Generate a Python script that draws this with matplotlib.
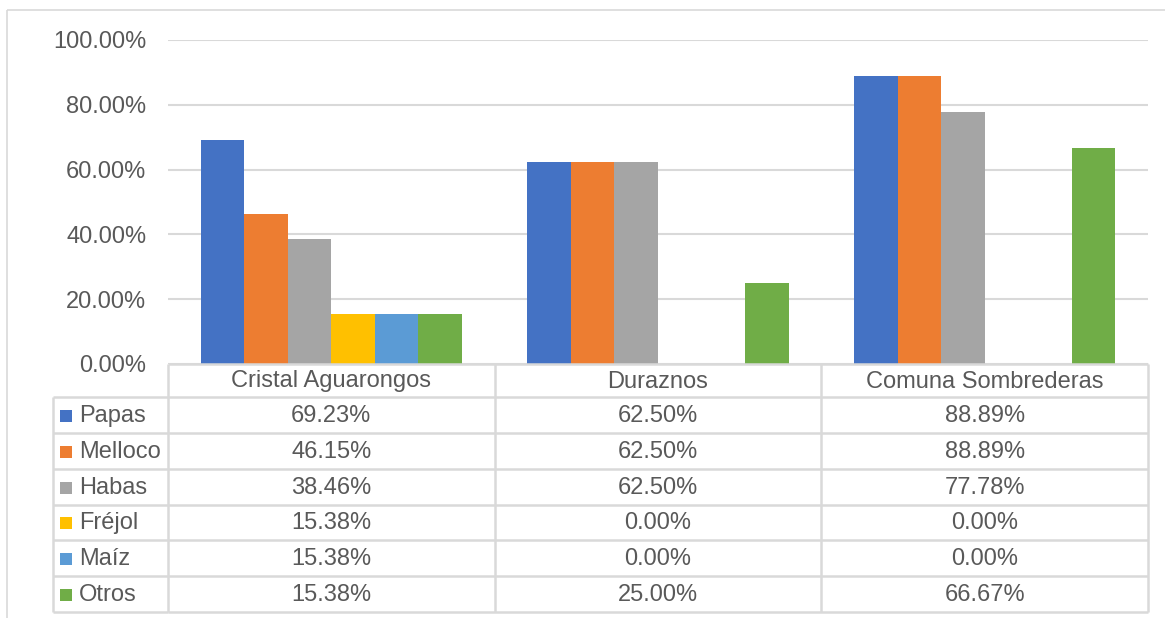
import matplotlib
matplotlib.use('Agg')
import matplotlib.pyplot as plt
from matplotlib.transforms import blended_transform_factory, Affine2D
from matplotlib.lines import Line2D
from matplotlib.patches import Rectangle
import numpy as np

plt.rcParams['font.family'] = ['Liberation Sans', 'DejaVu Sans']

categories = ['Cristal Aguarongos', 'Duraznos', 'Comuna Sombrederas']
series_names = ['Papas', 'Melloco', 'Habas', 'Fréjol', 'Maíz', 'Otros']
papas = [0.6923, 0.6250, 0.8889]
melloco = [0.4615, 0.6250, 0.8889]
habas = [0.3846, 0.6250, 0.7778]
frejol = [0.1538, 0.0, 0.0]
maiz = [0.1538, 0.0, 0.0]
otros = [0.1538, 0.2500, 0.6667]
series_values = [papas, melloco, habas, frejol, maiz, otros]
colors = ['#4472C4', '#ED7D31', '#A5A5A5', '#FFC000', '#5B9BD5', '#70AD47']
yticks = [0.0, 0.2, 0.4, 0.6, 0.8, 1.0]

W, H = 1165, 618
fig = plt.figure(figsize=(W / 100, H / 100), dpi=100)
fig.patch.set_facecolor('white')

def fx(px):
    return px / W

def fy(py):
    return 1 - py / H

TXT = '#595959'
GRID = '#d9d9d9'
FS = 17

ax = fig.add_axes([fx(168), fy(364), fx(1148) - fx(168), fy(40) - fy(364)])
n = len(series_names)
gap = 1.5
bw = 1.0 / (n + gap)
x = np.arange(len(categories))
for i, (name, vals) in enumerate(zip(series_names, series_values)):
    offs = (i - (n - 1) / 2) * bw
    ax.bar(x + offs, vals, width=bw, color=colors[i], zorder=3, linewidth=0)
ax.set_xlim(-0.5, len(categories) - 0.5)
ax.set_ylim(0, 1)
ax.set_yticks(yticks)
ax.set_yticklabels([f'{v * 100:.2f}%' for v in yticks])
ax.grid(axis='y', color=GRID, lw=1.5, zorder=0)
ax.set_xticks([])
for s in ax.spines.values():
    s.set_visible(False)
ax.tick_params(axis='y', length=0, pad=15.5, labelsize=FS, labelcolor=TXT)

# transforms
P = Affine2D().scale(1.0 / W, -1.0 / H).translate(0, 1) + fig.transFigure
T = blended_transform_factory(ax.transData, P)

# table geometry (pixels)
top = 364
hdr_bot = 397
bot = 612
nrows = len(series_names)
rh = (bot - hdr_bot) / nrows
leg_left = 53
lw = 1.8

def hline(y, x0, x1, tr):
    fig.add_artist(Line2D([x0, x1], [y, y], transform=tr, color=GRID, lw=lw, solid_capstyle='butt'))

def vline(xv, y0, y1, tr):
    fig.add_artist(Line2D([xv, xv], [y0, y1], transform=tr, color=GRID, lw=lw, solid_capstyle='butt'))

# header top
hline(top, -0.5, len(categories) - 0.5, T)
# row lines
for k in range(nrows + 1):
    yy = hdr_bot + k * rh
    hline(yy, -0.5, len(categories) - 0.5, T)
    hline(yy, leg_left, 168, P)
# vertical lines
vline(leg_left, hdr_bot, bot, P)
for b in np.arange(len(categories) + 1) - 0.5:
    vline(b, top, bot, T)

# header texts
for j, c in enumerate(categories):
    fig.text(x[j], (top + hdr_bot) / 2 + 1, c, transform=T, ha='center', va='center',
             fontsize=FS, color=TXT)

# rows
for k, (name, vals) in enumerate(zip(series_names, series_values)):
    yc = hdr_bot + (k + 0.5) * rh + 1
    fig.add_artist(Rectangle((60, yc - 6), 12, 12, transform=P, facecolor=colors[k], edgecolor='none'))
    fig.text(79, yc, name, transform=P, ha='left', va='center', fontsize=FS, color=TXT)
    for j, v in enumerate(vals):
        fig.text(x[j], yc, f'{v * 100:.2f}%', transform=T, ha='center', va='center',
                 fontsize=FS, color=TXT)

# outer frame
fig.add_artist(Rectangle((7, 10), W + 20, H + 20, transform=P, facecolor='none',
                         edgecolor=GRID, lw=1.2))

fig.savefig('out.png', dpi=100)
